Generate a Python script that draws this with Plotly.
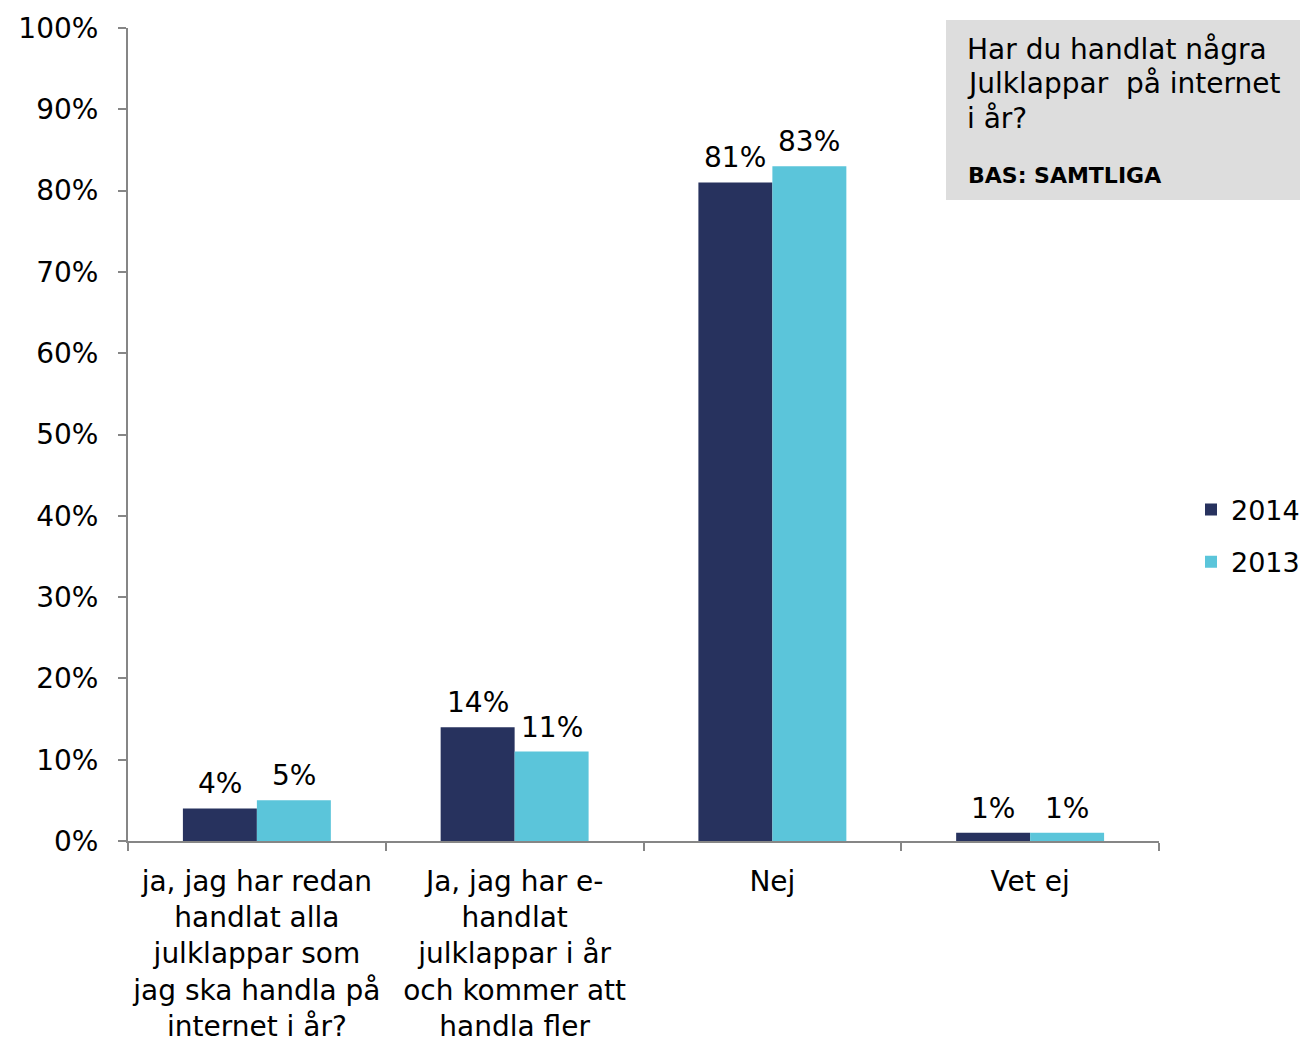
import plotly.graph_objects as go

categories = [
    "ja, jag har redan<br>handlat alla<br>julklappar som<br>jag ska handla på<br>internet i år?",
    "Ja, jag har e-<br>handlat<br>julklappar i år<br>och kommer att<br>handla fler",
    "Nej",
    "Vet ej",
]
series_names = ["2014", "2013"]
values_2014 = [4, 14, 81, 1]
values_2013 = [5, 11, 83, 1]
colors = ["#27325E", "#5BC5DA"]
y_ticks = [0, 10, 20, 30, 40, 50, 60, 70, 80, 90, 100]
y_ticktext = [f"{v}%" for v in y_ticks]
box_lines = ["Har du handlat några", "Julklappar  på internet", "i år?"]
box_base = "BAS: SAMTLIGA"

FONT = "DejaVu Sans"
FS = 28

L, R, T, B = 128, 1159, 28, 841
W, H = 1300, 1039
PW, PH = R - L, B - T
BARGAP = 0.426
BAR_PX = PW / len(categories) * (1 - BARGAP) / 2

def px(x):
    return (x - L) / PW

def py(y):
    return (B - y) / PH

fig = go.Figure()
series_vals = [values_2014, values_2013]
for name, vals, col in zip(series_names, series_vals, colors):
    fig.add_trace(go.Bar(
        x=categories, y=vals, name=name, legendgroup=name,
        marker=dict(color=col, line=dict(width=0)),
        hoverinfo="skip",
    ))

# value labels above each bar, placed in data coordinates
for si, vals in enumerate(series_vals):
    shift = (si - 0.5) * BAR_PX
    for cat, v in zip(categories, vals):
        fig.add_annotation(x=cat, y=v, xref="x", yref="y", text=f"{v}%",
                           showarrow=False, xanchor="center", yanchor="bottom",
                           xshift=shift, yshift=6,
                           font=dict(family=FONT, size=FS, color="#000000"))

fig.update_layout(
    width=W, height=H,
    margin=dict(l=L, r=W - R, t=T, b=H - B, autoexpand=False),
    paper_bgcolor="white", plot_bgcolor="white",
    barmode="group", bargap=BARGAP, bargroupgap=0,
    font=dict(family=FONT, size=FS, color="#000000"),
    legend=dict(x=px(1191), y=py(536), xanchor="left", yanchor="middle",
                font=dict(family=FONT, size=27), traceorder="grouped",
                tracegroupgap=14, itemwidth=30, bgcolor="rgba(0,0,0,0)"),
    showlegend=True,
)
fig.update_xaxes(
    automargin=False, tickangle=0,
    showline=True, linecolor="#868686", linewidth=2,
    ticks="outside", tickson="boundaries", ticklen=8, tickcolor="#868686", tickwidth=2,
    tickfont=dict(family=FONT, size=FS), showgrid=False, ticklabelstandoff=14,
)
fig.update_yaxes(
    automargin=False,
    range=[0, 100], tickvals=y_ticks, ticktext=y_ticktext,
    showline=True, linecolor="#868686", linewidth=2,
    ticks="outside", ticklen=8, tickcolor="#868686", tickwidth=2,
    tickfont=dict(family=FONT, size=FS), showgrid=False, zeroline=False,
    ticklabelstandoff=14,
)

fig.add_shape(type="rect", xref="paper", yref="paper",
              x0=px(946), x1=px(1300), y0=py(200), y1=py(20),
              fillcolor="#DDDDDD", line=dict(width=0), layer="below")
for i, line in enumerate(box_lines):
    fig.add_annotation(xref="paper", yref="paper",
                       x=px(965), y=py(50 + 34 * i), xanchor="left", yanchor="middle",
                       text=line, align="left", showarrow=False,
                       font=dict(family=FONT, size=FS, color="#000000"))
fig.add_annotation(xref="paper", yref="paper",
                   x=px(966), y=py(176), xanchor="left", yanchor="middle",
                   text=f"<b>{box_base}</b>", align="left", showarrow=False,
                   font=dict(family=FONT, size=22, color="#000000"))

fig.write_html(
    "out.html",
    config={"displayModeBar": False},
    post_script="document.body.style.margin='0';document.body.style.padding='0';",
)
